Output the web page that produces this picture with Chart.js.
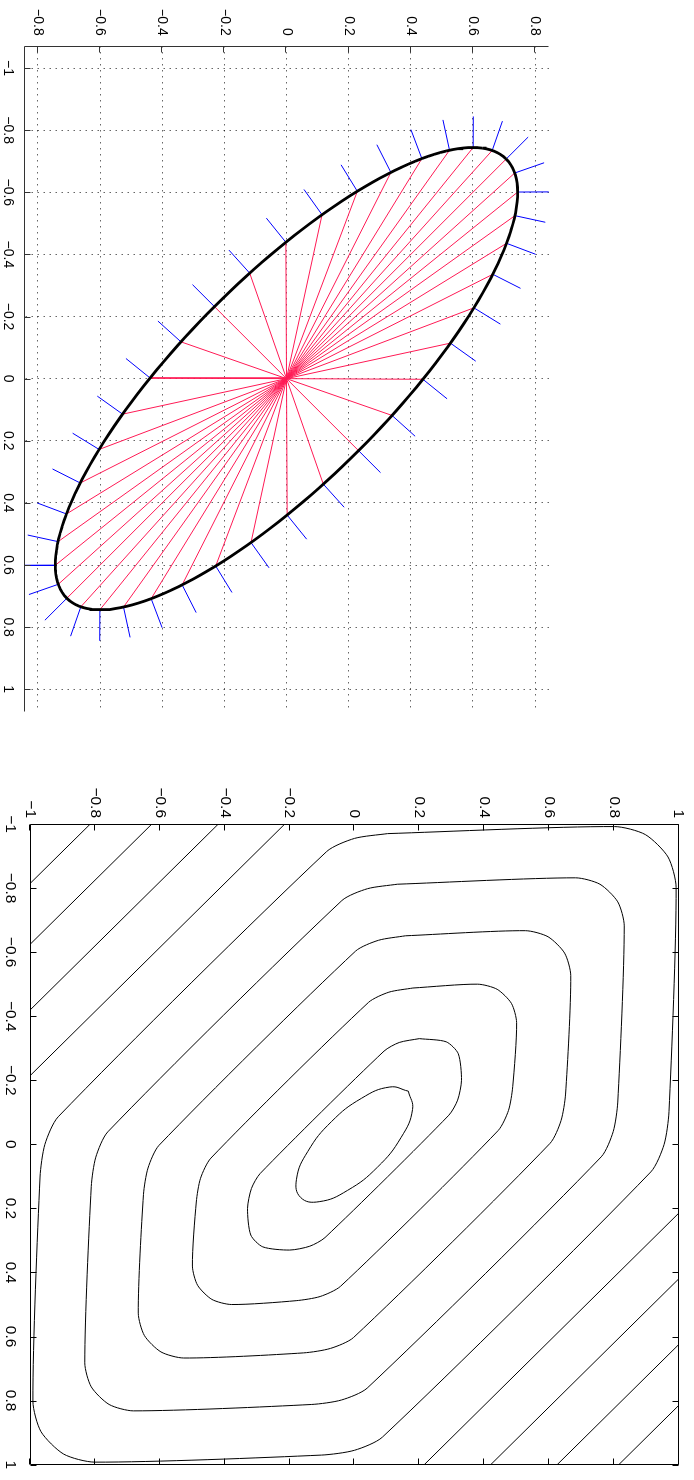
<!DOCTYPE html>
<html>
<head>
<meta charset="utf-8">
<title>Ellipse normals and level curves</title>
<script src="https://cdn.jsdelivr.net/npm/chart.js@4.4.1/dist/chart.umd.min.js"></script>
<style>
  html, body { margin: 0; padding: 0; background: #fff; }
  body { width: 694px; height: 1480px; position: relative; overflow: hidden; }
  /* both plots are drawn upright and then turned a quarter clockwise */
  .turned { position: absolute; left: 0; top: 0; transform-origin: 0 0; }
  #ellipseBox { transform: translate(694px, 0px) rotate(90deg); }
  #levelBox { transform: translate(694px, 760px) rotate(90deg); }
  canvas { display: block; }
</style>
</head>
<body>
<div class="turned" id="ellipseBox"><canvas id="ellipseChart" width="740" height="694"></canvas></div>
<div class="turned" id="levelBox"><canvas id="levelChart" width="720" height="694"></canvas></div>
<script>
"use strict";

//--------------------DATA

// ellipse: semi axes (major, minor) and direction of the major axis in degrees
let ellipseAxes = [1.0, 0.328];
let ellipseTilt = 135;
// parameter angles of the spoke points (degrees)
let spokeAngles = [0, 9, 18, 27, 36, 45, 54, 63, 72, 81, 90, 99, 108, 117, 126, 135, 144, 153, 162, 171,
  180, 189, 198, 207, 216, 225, 234, 243, 252, 261, 270, 279, 288, 297, 306, 315, 324, 333, 342, 351];
let normalLength = 0.1;

let ellipseXTicks = [-1, -0.8, -0.6, -0.4, -0.2, 0, 0.2, 0.4, 0.6, 0.8, 1];
let ellipseYTicks = [-0.8, -0.6, -0.4, -0.2, 0, 0.2, 0.4, 0.6, 0.8];
let ellipseXRange = [-1.072, 1.072];
let ellipseYRange = [-0.845, 0.845];

// level curves, each as [x, y] pairs (closed ones repeat the first point)
let levelA = [[-0.166, 0.166], [-0.109, 0.179], [-0.022, 0.144], [0.071, 0.071], [0.144, -0.022], [0.179, -0.109],
  [0.166, -0.166], [0.109, -0.179], [0.022, -0.144], [-0.071, -0.071], [-0.144, 0.022], [-0.179, 0.109],
  [-0.166, 0.166]];
let levelB = [[-0.330, 0.200], [-0.320, 0.283], [-0.283, 0.320], [-0.200, 0.330], [-0.138, 0.318], [-0.091, 0.291],
  [0.291, -0.091], [0.318, -0.138], [0.330, -0.200], [0.320, -0.283], [0.283, -0.320], [0.200, -0.330],
  [0.138, -0.318], [0.091, -0.291], [-0.291, 0.091], [-0.318, 0.138], [-0.330, 0.200]];
let levelC = [[-0.488, 0.18], [-0.5, 0.38], [-0.484, 0.44], [-0.44, 0.484], [-0.38, 0.5], [-0.18, 0.488],
  [-0.106, 0.475], [-0.043, 0.443], [0.443, -0.043], [0.475, -0.106], [0.488, -0.18], [0.5, -0.38],
  [0.484, -0.44], [0.44, -0.484], [0.38, -0.5], [0.18, -0.488], [0.106, -0.475], [0.043, -0.443],
  [-0.443, 0.043], [-0.475, 0.106], [-0.488, 0.18]];
let levelD = [[-0.651, 0.157], [-0.667, 0.527], [-0.648, 0.597], [-0.597, 0.648], [-0.527, 0.667], [-0.157, 0.651],
  [-0.074, 0.637], [-0.003, 0.603], [0.603, -0.003], [0.637, -0.074], [0.651, -0.157], [0.667, -0.527],
  [0.648, -0.597], [0.597, -0.648], [0.527, -0.667], [0.157, -0.651], [0.074, -0.637], [0.003, -0.603],
  [-0.603, 0.003], [-0.637, 0.074], [-0.651, 0.157]];
let levelE = [[-0.812, 0.132], [-0.832, 0.682], [-0.812, 0.757], [-0.757, 0.812], [-0.682, 0.832], [-0.132, 0.812],
  [-0.040, 0.798], [0.039, 0.761], [0.761, 0.039], [0.798, -0.040], [0.812, -0.132], [0.832, -0.682],
  [0.812, -0.757], [0.757, -0.812], [0.682, -0.832], [0.132, -0.812], [0.040, -0.798], [-0.039, -0.761],
  [-0.761, -0.039], [-0.798, 0.040], [-0.812, 0.132]];
let levelF = [[-0.970, 0.102], [-0.992, 0.802], [-0.967, 0.897], [-0.897, 0.967], [-0.802, 0.992], [-0.102, 0.970],
  [0.000, 0.955], [0.086, 0.914], [0.914, 0.086], [0.955, 0.000], [0.970, -0.102], [0.992, -0.802],
  [0.967, -0.897], [0.897, -0.967], [0.802, -0.992], [0.102, -0.970], [0.000, -0.955], [-0.086, -0.914],
  [-0.914, -0.086], [-0.955, 0.000], [-0.970, 0.102]];
// outer levels only cross the corners as straight pieces
let levelG = [[[-1.05, -0.165], [-0.165, -1.05]], [[1.05, 0.165], [0.165, 1.05]]];
let levelH = [[[-1.05, -0.37], [-0.37, -1.05]], [[1.05, 0.37], [0.37, 1.05]]];
let levelI = [[[-1.05, -0.575], [-0.575, -1.05]], [[1.05, 0.575], [0.575, 1.05]]];
let levelJ = [[[-1.05, -0.765], [-0.765, -1.05]], [[1.05, 0.765], [0.765, 1.05]]];

let levelTicks = [-1, -0.8, -0.6, -0.4, -0.2, 0, 0.2, 0.4, 0.6, 0.8, 1];

//--------------------HELPERS

const FONT = "'Liberation Sans', Arial, Helvetica, sans-serif";
const GAP = { x: null, y: null };

// tick text with a real minus sign
function tickText(v) {
  let r = Math.round(v * 10) / 10;
  return (r < 0 ? "\u2212" : "") + Math.abs(r);
}

function ellipsePoint(t) {
  let a = ellipseAxes[0], b = ellipseAxes[1];
  let th = ellipseTilt * Math.PI / 180;
  let u = a * Math.cos(t), w = b * Math.sin(t);
  return { x: u * Math.cos(th) - w * Math.sin(th), y: u * Math.sin(th) + w * Math.cos(th) };
}

// outward unit normal of the ellipse at parameter t
function ellipseNormal(t) {
  let a = ellipseAxes[0], b = ellipseAxes[1];
  let th = ellipseTilt * Math.PI / 180;
  let u = Math.cos(t) / a, w = Math.sin(t) / b;
  let len = Math.hypot(u, w);
  u /= len; w /= len;
  return { x: u * Math.cos(th) - w * Math.sin(th), y: u * Math.sin(th) + w * Math.cos(th) };
}

function toPoints(pairs) {
  return pairs.map(p => ({ x: p[0], y: p[1] }));
}

// ticks pointing into the plot, plus the axis lines
const inwardTicks = {
  id: "inwardTicks",
  afterDraw(chart, args, opts) {
    let ctx = chart.ctx, area = chart.chartArea;
    let xs = chart.scales.x, ys = chart.scales.y;
    let len = opts.length;
    ctx.save();
    ctx.strokeStyle = opts.color;
    ctx.lineWidth = 1;
    ctx.beginPath();
    let left = Math.round(area.left) + 0.5, bottom = Math.round(area.bottom) - 0.5;
    let right = Math.round(area.right) - 0.5, top = Math.round(area.top) + 0.5;
    ctx.moveTo(left, top); ctx.lineTo(left, bottom); ctx.lineTo(right, bottom);
    if (opts.box) { ctx.lineTo(right, top); ctx.lineTo(left, top); }
    xs.ticks.forEach(t => {
      let px = Math.round(xs.getPixelForValue(t.value)) + 0.5;
      ctx.moveTo(px, bottom); ctx.lineTo(px, bottom - len);
      if (opts.box) { ctx.moveTo(px, top); ctx.lineTo(px, top + len); }
    });
    ys.ticks.forEach(t => {
      let py = Math.round(ys.getPixelForValue(t.value)) + 0.5;
      ctx.moveTo(left, py); ctx.lineTo(left + len, py);
      if (opts.box) { ctx.moveTo(right, py); ctx.lineTo(right - len, py); }
    });
    ctx.stroke();
    ctx.restore();
  }
};

function axis(range, ticks, size, pad, fontSize, grid) {
  return {
    type: "linear",
    min: range[0],
    max: range[1],
    afterBuildTicks: s => { s.ticks = ticks.map(v => ({ value: v })); },
    afterFit: s => { if (s.isHorizontal()) s.height = size; else s.width = size; },
    ticks: {
      padding: pad,
      color: "#000",
      autoSkip: false,
      maxRotation: 0,
      font: { family: FONT, size: fontSize },
      callback: v => tickText(v)
    },
    grid: grid ? { color: "rgba(0,0,0,0.6)", lineWidth: 1, drawTicks: false } : { display: false, drawTicks: false },
    border: { display: false, dash: [1.5, 4.5] }
  };
}

//--------------------ELLIPSE PLOT

function renderEllipse() {
  let curve = [];
  for (let i = 0; i <= 360; i += 2) {
    curve.push(ellipsePoint(i * Math.PI / 180));
  }
  let spokes = [], normals = [];
  for (let i = 0; i < spokeAngles.length; i++) {
    let t = spokeAngles[i] * Math.PI / 180;
    let p = ellipsePoint(t), n = ellipseNormal(t);
    spokes.push({ x: 0, y: 0 }, p, GAP);
    normals.push(p, { x: p.x + normalLength * n.x, y: p.y + normalLength * n.y }, GAP);
  }

  const ctx = document.getElementById("ellipseChart").getContext("2d");
  new Chart(ctx, {
    type: "scatter",
    data: {
      datasets: [
        { data: curve, borderColor: "#000", borderWidth: 2.8, order: 1 },
        { data: normals, borderColor: "#0000ff", borderWidth: 1, order: 2 },
        { data: spokes, borderColor: "#ff1a55", borderWidth: 1, order: 3 }
      ]
    },
    options: {
      responsive: false,
      animation: false,
      events: [],
      showLine: true,
      spanGaps: false,
      elements: { point: { radius: 0 }, line: { tension: 0, borderCapStyle: "butt" } },
      layout: { padding: { left: 9.7, right: 28.4, top: 145, bottom: 0 } },
      plugins: {
        legend: { display: false },
        tooltip: { enabled: false },
        inwardTicks: { length: 6, color: "#333", box: false }
      },
      scales: {
        x: axis(ellipseXRange, ellipseXTicks, 24, 8, 14, true),
        y: axis(ellipseYRange, ellipseYTicks, 36, 10, 14, true)
      }
    },
    plugins: [inwardTicks]
  });
}

//--------------------LEVEL CURVE PLOT

function renderLevels() {
  let closed = [levelA, levelB, levelC, levelD, levelE, levelF];
  let pieces = levelG.concat(levelH, levelI, levelJ);
  let datasets = closed.map((c, i) => ({
    data: toPoints(c),
    borderColor: "#000",
    borderWidth: 1,
    tension: i === 0 ? 0.45 : 0.25
  }));
  pieces.forEach(p => {
    datasets.push({ data: toPoints(p), borderColor: "#000", borderWidth: 1, tension: 0 });
  });

  const ctx = document.getElementById("levelChart").getContext("2d");
  new Chart(ctx, {
    type: "scatter",
    data: { datasets: datasets },
    options: {
      responsive: false,
      animation: false,
      events: [],
      showLine: true,
      elements: { point: { radius: 0 } },
      layout: { padding: { left: 14, right: 6, top: 14, bottom: 0.3 } },
      plugins: {
        legend: { display: false },
        tooltip: { enabled: false },
        inwardTicks: { length: 6, color: "#000", box: true }
      },
      scales: {
        x: axis([-1, 1], levelTicks, 30, 11, 15.5, false),
        y: axis([-1, 1], levelTicks, 50, 6, 15.5, false)
      }
    },
    plugins: [inwardTicks]
  });
}

renderEllipse();
renderLevels();
</script>
</body>
</html>
